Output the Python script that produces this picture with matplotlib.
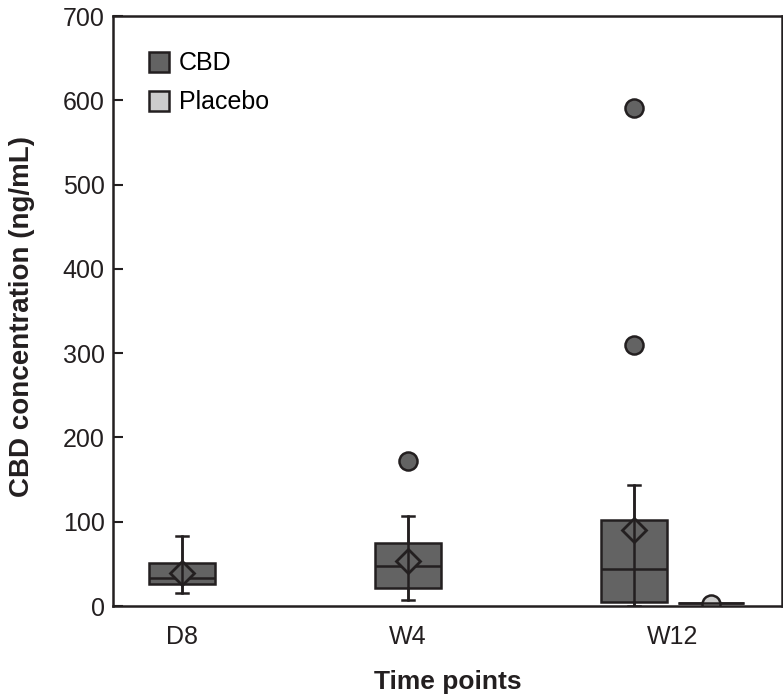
import matplotlib.pyplot as plt
from matplotlib.lines import Line2D

plt.rcParams['font.family'] = ['Liberation Sans', 'DejaVu Sans']

time_points = ["D8", "W4", "W12"]

# CBD arm: box statistics (ng/mL)
cbd_q1 = [26, 21, 5]
cbd_med = [33, 48, 44]
cbd_q3 = [51, 75, 102]
cbd_mean = [39, 53, 90]
cbd_lo = [15, 7, 0]
cbd_hi = [83, 107, 143]
cbd_out = [[], [172], [310, 591]]

# Placebo arm (only measured at W12)
pla_q1 = [3]
pla_med = [3]
pla_q3 = [3]
pla_mean = [3]
pla_lo = [3]
pla_hi = [3]
pla_out = [[2]]

cbd_color = "#636363"
pla_color = "#cccccc"
edge = "#231f20"

fig = plt.figure(figsize=(7.83, 6.96), dpi=100)
ax = fig.add_axes([0.1443, 0.1293, 0.8544, 0.8477])


def draw_group(positions, q1, med, q3, mean, lo, hi, out, color, show_mean=True, width=0.29):
    stats = []
    for i in range(len(positions)):
        stats.append(dict(q1=q1[i], med=med[i], q3=q3[i], mean=mean[i],
                          whislo=lo[i], whishi=hi[i], fliers=out[i]))
    ax.bxp(stats, positions=positions, widths=width, patch_artist=True,
           showmeans=show_mean, showcaps=True, manage_ticks=False,
           boxprops=dict(facecolor=color, edgecolor=edge, linewidth=1.8),
           medianprops=dict(color=edge, linewidth=1.8),
           whiskerprops=dict(color=edge, linewidth=1.8),
           capprops=dict(color=edge, linewidth=1.8),
           capwidths=0.05,
           meanprops=dict(marker="D", markerfacecolor=color, markeredgecolor=edge,
                          markersize=12, markeredgewidth=2),
           flierprops=dict(marker="o", markerfacecolor=color, markeredgecolor=edge,
                           markersize=13, markeredgewidth=1.8))
    # whisker line runs through the box as well
    ax.vlines(positions, lo, hi, color=edge, linewidth=1.8, zorder=2.5)


cbd_pos = [1, 2, 3]
pla_pos = [3.34]
draw_group(cbd_pos, cbd_q1, cbd_med, cbd_q3, cbd_mean, cbd_lo, cbd_hi, cbd_out, cbd_color)
draw_group(pla_pos, pla_q1, pla_med, pla_q3, pla_mean, pla_lo, pla_hi, pla_out, pla_color,
           show_mean=False)

ax.set_xlim(0.695, 3.655)
ax.set_ylim(0, 700)
ax.set_yticks(range(0, 701, 100))
ax.set_xticks([1, 2, 3.17])
ax.set_xticklabels(time_points)
ax.tick_params(axis="y", direction="in", length=7, width=1.5, labelsize=18, pad=6, colors=edge)
ax.tick_params(axis="x", length=0, labelsize=18, pad=14, colors=edge)
for s in ax.spines.values():
    s.set_linewidth(1.8)
    s.set_color(edge)
    s.set_zorder(5)

ax.set_xlabel("Time points", fontsize=19, fontweight="bold", labelpad=15, color=edge)
ax.set_ylabel("CBD concentration (ng/mL)", fontsize=20, fontweight="bold", color=edge)
ax.yaxis.set_label_coords(-0.117, 0.49)

handles = [Line2D([], [], linestyle="none", marker="s", markersize=14,
                  markerfacecolor=cbd_color, markeredgecolor=edge, markeredgewidth=1.8),
           Line2D([], [], linestyle="none", marker="s", markersize=14,
                  markerfacecolor=pla_color, markeredgecolor=edge, markeredgewidth=1.8)]
ax.legend(handles, ["CBD", "Placebo"], loc="upper left", bbox_to_anchor=(0.039, 0.957),
          frameon=False, fontsize=18, handlelength=0.8, handletextpad=0.4,
          labelspacing=0.6, borderaxespad=0)

fig.savefig("out.png", dpi=100)
